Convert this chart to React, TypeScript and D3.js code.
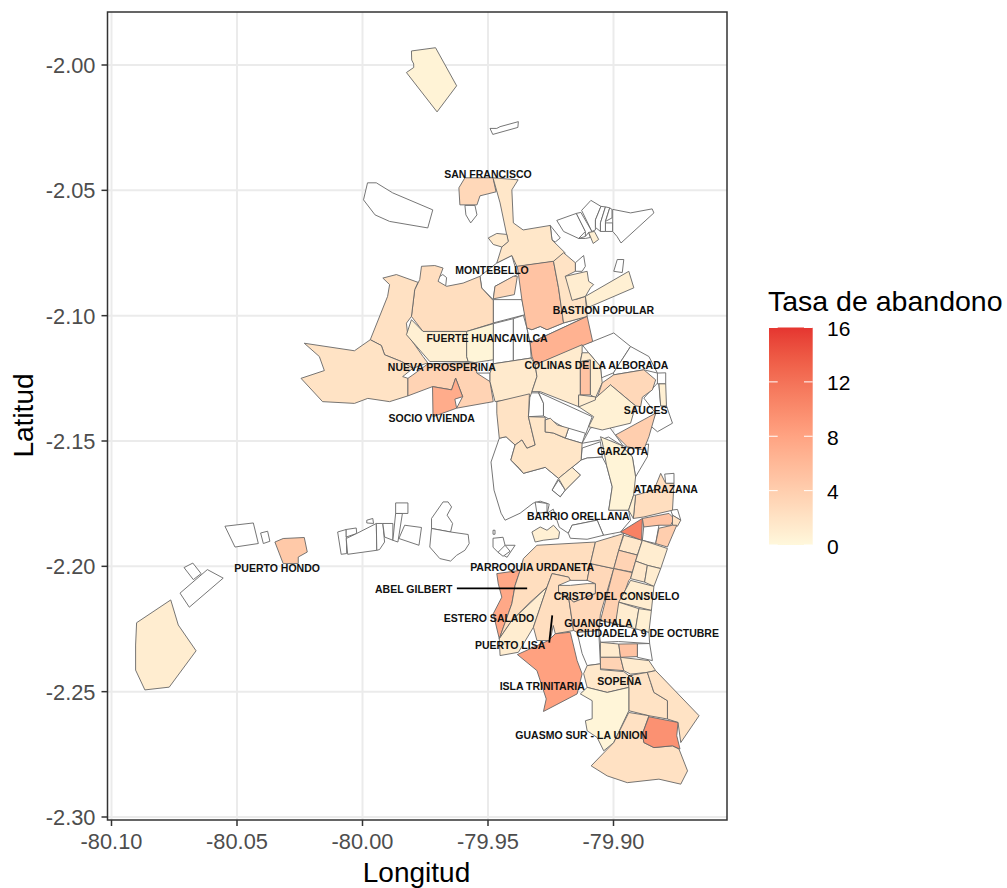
import React from "react";
import * as d3 from "d3";

// Map blocks are stored as "east,south" offsets in milli-degrees from this reference point.
const refLon = -79.95;
const refLat = -2.15;

const lonTicks = [-80.1, -80.05, -80.0, -79.95, -79.9];
const latTicks = [-2.0, -2.05, -2.1, -2.15, -2.2, -2.25, -2.3];
const legendTicks = [0, 4, 8, 12, 16];

// Parishes without data (no fill)
const emptyRings: string[] = [
  "0.8,-124.7 3.5,-124.7 4.8,-125.4 12.1,-127.4 11.9,-125.1 1.9,-122.3",
  "-48,-103 -44.5,-103 -38,-99 -22,-92.2 -24,-85 -39.2,-87.6 -45,-90.2 -49.6,-96.2",
  "-9.2,-94 -5.2,-94 -4.4,-90.2 -6.9,-87 -8.8,-90.2",
  "24.8,-86 28.8,-81 26.8,-79.4 25.5,-80.2",
  "27.4,-88 35.2,-90.8 38.8,-83.6 36.1,-80.8 30.1,-83.6",
  "35.2,-90.8 37,-91.2 41.4,-83.6 38.8,-81.6 38.8,-83.6",
  "37.3,-92 41,-96 45,-93.6 42.8,-88.2 42.8,-84.2 41.4,-83.6",
  "45,-93.6 46.8,-93.4 44.8,-87 44.8,-83.6 42.8,-85.2 42.8,-88.2",
  "46.8,-93.4 48.5,-93 46.8,-87.6 46.8,-83.6 44.8,-83.6 44.8,-87",
  "48.5,-93 49.4,-92.4 49.4,-89 46.8,-87.6",
  "46.8,-87 49.7,-87 49.7,-83.6 46.8,-83.6",
  "49.7,-92.4 56.8,-91 65.4,-92.6 66.1,-91 53,-79 51.4,-81.6 49.7,-83.6",
  "36.1,-80.8 38.8,-81.6 40.1,-83.2 40.8,-81.2 38.8,-80.8",
  "-20,-65.2 -18,-66.4 -16.5,-65.2 -16.9,-61.5 -20.3,-63.3",
  "-4.5,-27.1 0.8,-27.1 0.8,-23.7 -2,-24.1 -4.5,-25.7",
  "3.5,-71 9.5,-74 11.7,-66.4 2.8,-61.7 2.1,-56.4 -2.5,-61 -3.2,-65.7",
  "34.8,-71.1 38.1,-74 38.8,-69.7 37.5,-67.7 34.8,-67.7",
  "50.1,-67.7 51.5,-72.4 54.1,-72.4 53.5,-67.2",
  "2.1,-56.4 13.5,-56.4 14.8,-50.4 2.1,-47.1",
  "2.1,-46.8 10.1,-48.8 10.1,-32 2.1,-30.8",
  "10.1,-48.8 14.1,-50.1 15.5,-45.1 16.8,-39.1 17.2,-33.1 10.1,-32",
  "15.5,-45.1 17.5,-44.4 20.8,-45.7 23.5,-44.4 30.1,-47.1 39.5,-49.7 16.8,-39.1",
  "41.7,-39.7 50.1,-43.1 56.8,-37.7 50,-27.2 45.2,-25.2 44.8,-29.7 40.1,-35.2 37.5,-38.4",
  "56.8,-37.7 64.1,-33.7 67.5,-27.1 62.1,-28.4 50.1,-26.4 50,-27.2",
  "16.8,-19.2 20.1,-19.2 22.1,-15.1 22.1,-10 16.1,-9.7",
  "20.1,-19.5 41.5,-9.7 38.8,-2.4 31.5,-4.7 22.1,-10 22.1,-15.1",
  "62.1,-17.1 67.5,-23.1 68.1,-22.8 68.8,-14 71.1,-14 73.5,-7.1 67.5,-3.7 64.8,-6 66.8,-11.1",
  "67.5,-27.1 70.8,-27.2 70.8,-22.8 67.5,-22.8",
  "30.8,-1.1 32.1,-5.1 38.8,-3.1 37.5,0.9",
  "28.1,15.6 30.8,19.6 28.8,22.3 25.5,19.6",
  "37.5,0.9 40.8,-5.2 47.5,-6.8 54.1,2.3 48,-1.6 44.8,-0.4",
  "37.1,7.6 37.5,2.8 44.8,0.3 45.5,6.4 39.5,6.8",
  "52.8,1.6 56.8,2.8 64,1.2 63.5,6.3 58.8,14.3 57.5,6.3",
  "4.5,-1.1 1.2,8.4 2.4,19.6 5.2,28.8 6.8,31.6 12.8,28.8 18,24.8 20.8,24 24.4,25.2 23.6,28.8 26,27.2 28.4,34.4 32,36.8 33.5,33.6 43.5,31.6 46,37.6 52.8,36.3 56.8,31.6 56,27.6 48.1,27.6 49.5,18.3 47.2,9.6 45.5,6.4 39.5,6.8 37.1,7.6 33.5,10.5 36.8,13.6 30.8,19.6 28.8,22.3 25.5,19.6 28.1,14.9 22.8,10.5 14.1,12.9 9.1,7.6 10.8,1.6 7.2,-1.7",
  "32,36.8 33.5,33.6 43.5,31.6 46,37.6 39.5,39.2 32.8,38.8",
  "18.8,24.3 23.5,24.9 23.5,28.3 19.5,28.9",
  "2,38.8 6,38.4 6.8,41.6 10.8,41.6 7.6,46.4 4,44.4 2,42.4",
  "6.8,41.6 8.8,44 6,46 4,44.4",
  "2,35.6 2.8,35.6 2.8,37.2 2,37.2",
  "70.4,13.2 74.1,12.9 74.1,16.9 70.8,16.9",
  "72.8,27.6 75.5,27.3 76.8,31.6 73.5,29.6",
  "62.1,33.6 68.1,33.6 66.8,40.9 61.5,39.6",
  "44.1,75.6 44.8,71.6 50.8,72.9 64.1,76.3 64.4,80.8 52,80 44.8,80.3",
  "59.5,80.9 64.4,80.8 65.5,87.6 59.5,86.3",
  "35.5,76.3 44.1,75.6 44.8,88.9 39.5,89.6 37.5,84.8",
  "-22.5,34.9 -22.5,30.9 -17.9,24.3 -15.9,24.3 -14.5,26.3 -16.3,29.6 -14.1,32.9 -14.9,36.3",
  "-22.5,34.9 -14.9,36.3 -7.9,37.3 -7.5,40.9 -9.2,43.6 -12.5,45.6 -14.9,47.9 -19.2,46.9 -23.2,42.3",
  "-59.9,36.3 -56.5,35.3 -56.3,44.9 -58.5,45.2",
  "-56.5,35.3 -52.5,34.7 -52.3,36.9 -56.5,38.3",
  "-56.5,38.9 -52.3,36.9 -44.5,32.9 -44.3,43.6 -55.9,45.2",
  "-48.3,31.6 -45.9,30.9 -45.6,32.9 -48.3,32.7",
  "-44.5,32.9 -41.9,32.9 -41.2,40.3 -43.2,43.3 -44.3,43.6",
  "-41.9,32.9 -37.9,32.9 -37.9,39.6 -41.2,38.3",
  "-36.8,28.9 -34.1,28.9 -35.9,40.3 -37.9,39.6",
  "-36.8,24.7 -31.9,24.7 -31.9,28.9 -36.8,28.9",
  "-33.2,33.6 -26.5,34.5 -27.5,41.6 -35.5,38.9",
  "-104.8,34 -93.5,32.7 -91.5,40.9 -100.8,42.3",
  "-90.6,36.7 -87.8,36 -86.9,40 -89.5,40.9",
  "-121.1,50.5 -117.6,48.7 -114.3,52.9 -117.4,55.3",
  "-122.7,60.7 -111.8,51.3 -105.5,54.7 -119,66.3",
];

// Parishes with a dropout rate
const ratedRings: string[] = [
  "-30.5,-155.6 -20.9,-156.9 -12.5,-141.7 -20.3,-131.3 -32.5,-147 -29.6,-149 -29.6,-150.4 -30.4,-152",
  "-9.2,-105 2,-105 3.2,-99.4 -3.2,-97.8 -4.4,-94.2 -11.2,-94.2 -11.6,-101",
  "2,-105 12,-104.2 9.5,-100.2 10.1,-87 14,-84.2 24.8,-86 25.5,-80.2 30.8,-75 26.1,-71.6 11.5,-69.6 9.5,-74 3.5,-71 5.5,-77.4 8,-79.6 4.8,-95",
  "0.1,-81 3.5,-82.8 7.5,-82.4 8.1,-79.6 5.5,-77.4 2.1,-78.4",
  "40.1,-83.2 42.4,-83.6 44.1,-80.4 41.9,-78.8",
  "-26.5,-69.7 -21.2,-70 -17.9,-69 -19.9,-63.7 -16.5,-61.7 -9.9,-63 -3.2,-65.7 -2.5,-61 2.1,-56 2.1,-47 -8.5,-43.7 -25.9,-43.7 -30.5,-49.7 -29.2,-60.4 -27.2,-64.4",
  "-41.9,-65 -36.5,-66.4 -27.9,-63.3 -29.2,-60.4 -30.5,-49.7 -32.5,-47 -32,-42.4 -25.9,-33.7 -24,-31.2 -29.9,-29 -34.5,-31.7 -41.2,-34.4 -42.5,-38.1 -46.9,-40.4 -40,-57.7 -39.2,-62.4",
  "-73.2,-39 -53.2,-36 -46.9,-40.4 -42.5,-38.1 -41.2,-34.4 -34.5,-31.7 -29.9,-29 -34,-25.7 -31.9,-25 -31.9,-18 -39.2,-15.7 -47.9,-17 -53.2,-15 -65.9,-15.7 -74.5,-25 -65.2,-28.1 -67.2,-33.7",
  "-30.5,-48.4 -25.9,-43.7 -8.5,-43.7 -8.5,-33.7 -7.9,-31.7 -23.2,-31.7 -32.5,-42.4",
  "-8.5,-43.7 2.1,-46.8 2.1,-32.4 -5.2,-31.3 -7.9,-31.7 -8.5,-33.7",
  "-29.9,-26.4 -23.9,-30.8 -4.5,-31.3 -4.5,-27.1 0.8,-23.7 2.1,-15.7 -12.5,-13.1 -10.1,-17.7 -12.9,-25.1 -14.5,-20.4 -22.1,-21.7 -31.9,-18 -31.9,-25",
  "-22.1,-21.7 -14.5,-20.4 -12.9,-25.1 -10.1,-17.7 -13.2,-16.7 -12.5,-13.1 -21.9,-9.7",
  "2.8,-61.7 10.1,-65.7 11.7,-65.7 10.5,-58.4 2.1,-56.7",
  "11.7,-69.7 26.1,-71.7 28.1,-61.1 30.1,-47.1 23.5,-44.4 20.8,-45.7 17.5,-44.4 15.5,-45.1 13.5,-56.4",
  "26.1,-71.7 30.1,-75.1 34.8,-71.1 34.8,-67.7 30.8,-65.7 34.8,-56.4 38.8,-57.7 39.5,-49.7 30.1,-47.1 28.1,-61.1",
  "30.8,-65.7 39.5,-67.7 40.1,-63.7 42.1,-62.4 40.8,-61.1 38.8,-57.7 33.5,-56.1",
  "38.8,-57.7 56.1,-67.7 58.1,-61.1 39.5,-53.1",
  "16.8,-39.1 39.5,-49.7 41.7,-39.7 18.8,-30.4 17.5,-33.7",
  "2.1,-30.8 17.2,-33.1 18.8,-30.4 19.5,-25.7 17.5,-19.7 16.8,-17.7 2.8,-15.7 0.8,-23.7 0.8,-27.1",
  "18.8,-30.4 37.5,-38.4 37.5,-35.2 36.8,-31.7 36.8,-18.4 36.1,-18 36.1,-13.7 20.8,-19.7 17.5,-19.7 19.5,-25.7",
  "36.8,-31.7 40.8,-32.4 40.8,-18.4 36.8,-18.4",
  "37.5,-35.2 40.1,-35.2 44.8,-29.7 45.5,-23.2 42.8,-17.2 40.8,-18.4 40.8,-32.4 36.8,-31.7",
  "50.1,-26.4 62.1,-28.4 66.8,-24.4 65.5,-20.4 61.5,-17.5 60.8,-13.7 58.8,-14 48.8,-22.4 43.5,-17.1 45.5,-23.2",
  "48.8,-22.4 58.8,-14 56.8,-7.1 45.5,-4.4 40.1,-5.7 42.1,-9.7 36.1,-13.7 42.8,-17.1",
  "36.1,-18.4 42.8,-17.6 42.8,-16.4 36.1,-13.6",
  "50.8,-2.4 66.8,-11.1 64.1,-1.7 62,3.6 55.5,2.3",
  "68.1,-22.8 70.8,-22.8 71.1,-14 68.8,-14",
  "3.5,-15.7 16.5,-18.8 16.1,-9.7 18.8,1.6 15.5,2.9 13.5,-0.4 10.8,1.6 7.2,-1.7 4.5,-1.1 3.5,-11.1",
  "16.1,-9.7 22.8,-9.5 22.8,-3.6 26,-3.2 30.8,-1.1 37.5,0.9 37.1,7.6 28.1,14.9 22.8,10.5 14.1,12.9 12.5,10.9 9.1,7.6 10.8,1.6 13.5,-0.4 15.5,2.9 18.8,1.6",
  "22.8,-8.4 24.8,-9.1 27.6,-6.4 32.1,-5.1 30.8,-1.2 26,-3.2 22.8,-3.6",
  "28.1,14.9 33.5,10.5 36.8,13.6 30.8,19.6",
  "44.8,-1.7 52.8,1.6 57.5,6.3 58.8,14.3 58,21.6 56,27.6 48.1,27.6 49.5,18.3 47.2,9.6 45.5,0.3",
  "17.5,36.3 20.8,34.3 23.5,35.6 26.1,33.6 28.5,36.3 28.1,38.9 22,39.6 18.8,40.3",
  "3.5,52.9 12.8,51.6 10.8,57.6 9.5,64.9 4.5,78.9 2.1,68.9 5.5,62.3 4.1,57",
  "12.8,51.6 14.1,46.9 19.5,41.6 42.8,40.3 40.8,48.9 39.5,55.6 32.8,55.6 32.1,54.3 25.5,52.9 23.5,58.3 16.8,64.3 9.5,71.6 4.5,78.9 9.5,64.9 10.8,57.6",
  "4.5,78.9 9.5,71.6 23.5,58.3 18.1,74.3 12.1,84.3 4.8,85.6",
  "25.5,52.9 32.1,54.3 32.8,55.6 28.1,57.6 28.1,60.3 32.1,62.3 34.1,75.6 26.8,76.9 26,73.6 24.8,79.6 19.5,79.6 18.1,74.3 23.5,58.3",
  "28.1,57.6 32.8,57.6 39.5,56.9 42.8,56.9 42.8,60.8 34.1,64.3 32.1,62.3 28.1,60.3",
  "40.8,48.9 50.1,50.9 44.8,68.9 44.1,75.6 35.5,76.3 34.1,75.6 32.1,62.3 34.1,64.3 42.8,60.9 42.8,56.9 39.5,55.6",
  "42.8,40.3 54.1,36.9 52.1,43.6 50.1,50.9 40.8,48.9",
  "54.1,37.6 61.5,39.6 59.5,45.5 52.1,43.6",
  "52.1,43.6 59.5,45.5 57.5,52.3 50.1,50.9",
  "50.1,50.9 57.5,52.5 56.8,54.9 56.1,55.6 52.1,66.9 50.8,72.9 44.8,71.6",
  "52.8,36.3 61.5,30.9 61.2,39.6",
  "61.5,30.9 72.1,28.9 74.1,30.9 72.8,33.6 68.1,33.6 62.1,34.3",
  "58.8,21.6 66.1,19.6 68.8,12.9 70.8,16.9 74.1,16.9 73.5,27.6 62.1,30.3 57.9,30.9",
  "58,21.6 58.8,21.6 57.9,30.9 56,27.6",
  "73.5,29.6 76.8,31.6 75.5,34 73.5,33.6",
  "68.1,34.8 73.5,33.6 75.2,33.6 71.5,42.3 66.8,40.9",
  "61.5,39.6 71.5,42.9 68.8,50.9 63.5,49.6 58.8,47.9",
  "58.8,47.9 63.5,49.6 62.4,56.3 56.8,54.9",
  "63.5,49.6 68.8,50.9 66.1,58 62.4,56.3",
  "56.8,55.6 66.1,58 65.1,67.6 52.1,64.3",
  "52.1,64.3 60.1,66.9 58.8,74.9 50.8,72.9",
  "60.1,66.9 65.1,67.6 64.1,76.3 58.8,74.9",
  "44.8,80.3 52.1,81 52.8,86.3 44.8,86.3",
  "52.1,81 59.5,80.9 59.5,86 52.8,86.3",
  "44.8,86.3 52.8,86.3 54.1,91.6 44.8,90.9",
  "52.8,86.3 64.1,87.6 66.8,91.6 63.5,92.3 56.8,93 54.1,91.6",
  "39.5,89.6 44.8,88.9 44.8,91.2 54.1,92 56.1,93.6 56.1,98.3 47.5,100.3 39.5,98.3 38.1,92.8",
  "56.1,93.6 63.5,92.3 64.8,96.3 66.1,100.3 71.5,103.6 71.5,110.9 64.1,109.6 56.1,107.6 56.1,98.3",
  "66.8,91.6 84.1,109.6 76.8,120.3 75.7,112.3 71.5,110.9 71.5,103.6 66.1,100.3 64.8,96.3 63.5,92.3",
  "39.5,98.3 47.5,100.3 56.1,98.3 56.1,107.6 50.1,120.3 46.1,123.6 43.5,118.3 39.5,115.6 38.8,111.6 41.5,110.8 41.5,103.6 36.8,100.9",
  "56.1,108.3 64.1,109.6 61.5,116.9 62.1,120.3 66.1,122.3 73.5,121.6 76.1,122.9 79.5,131.6 76.8,136.9 68.1,134.9 55.5,136.3 47.5,133.6 41.1,129.6 50.1,120.3",
  "64.1,110 75.7,112.3 75.2,117.6 76.5,122.9 73.5,121.6 66.1,122.3 62.1,120.3 61.5,116.9",
  "11.7,85.2 24.1,79.6 26.8,76.9 32.8,76.3 35.5,87.6 37.5,92.9 35.5,100.9 22.1,107.9 23.2,102.9 19.5,91.6",
  "-84.9,40.3 -81.6,38.9 -73.2,38.5 -72,44.3 -75.6,46.3 -75.6,48.9 -81.6,48.9",
  "-140,72.5 -126.4,63.4 -123.4,73.4 -116.3,83.7 -127,98.2 -136.7,99.3 -140.4,91.4 -140.4,81.4",
];

const ratedValues: number[] = [
  0.5, 3, 1.6, 1.3, 0.8, 2.5, 2.2, 2, 0.8, 0.3, 3.5, 7.2, 3, 5, 2, 1, 0.8, 6.6, 1.3, 1.2, 5, 1, 3, 0.7, 1, 4, 0.8,
  2, 1.7, 1.7, 1, 0.4, 0.8, 7.5, 2.5, 1, 2.5, 2, 3, 2.5, 1.5, 3.5, 3.8, 10.8, 5, 2.5, 0.8, 2, 4, 1, 1.5, 1, 1, 1, 0.8,
  1.2, 5, 3.5, 1.2, 1.5, 2, 2, 0.3, 2.2, 9.5, 8.2, 4.5, 1,
];

const labelNames = [
  "SAN FRANCISCO", "MONTEBELLO", "BASTION POPULAR", "FUERTE HUANCAVILCA", "NUEVA PROSPERINA",
  "COLINAS DE LA ALBORADA", "SOCIO VIVIENDA", "SAUCES", "GARZOTA", "ATARAZANA", "BARRIO ORELLANA",
  "PUERTO HONDO", "PARROQUIA URDANETA", "ABEL GILBERT", "CRISTO DEL CONSUELO", "ESTERO SALADO",
  "GUANGUALA", "CIUDADELA 9 DE OCTUBRE", "PUERTO LISA", "ISLA TRINITARIA", "SOPEÑA", "GUASMO SUR - LA UNION",
];
const labelEast = [0, 1.6, 46, -0.4, -18.4, 43.2, -22.4, 62.8, 53.6, 70.8, 36, -84, 17.6, -29.6, 51.2, 0.4, 44, 63.6, 8.8, 21.6, 52.4, 37.2];
const labelSouth = [-106.4, -68, -52, -41.2, -29.6, -30.4, -9.2, -12.4, 4, 19.2, 30, 50.8, 50.4, 59.2, 62, 70.8, 72.8, 76.8, 81.6, 98, 96, 117.2];

// Leader lines for repelled labels
const leaderLines: string[] = ["-12.4,58.8 15.6,58.8", "25.6,69.6 24.4,80.4"];

const font = "'Liberation Sans', Arial, sans-serif";

const parseRing = (s: string): [number, number][] =>
  s.split(" ").map((p) => {
    const [e, n] = p.split(",").map(Number);
    return [refLon + e / 1000, refLat - n / 1000];
  });

export default function App() {
  const panel = { left: 107.5, right: 727, top: 12, bottom: 820 };
  const x = d3.scaleLinear().domain([-80, -79.9]).range([362.5, 613.5]);
  const y = d3.scaleLinear().domain([-2.0, -2.3]).range([65, 817]);
  const color = d3
    .scaleLinear<string>()
    .domain([0, 8, 16])
    .range(["#FFF8DC", "#FFA382", "#E53530"])
    .interpolate(d3.interpolateLab);
  const line = d3.line<[number, number]>().x((d) => x(d[0])).y((d) => y(d[1]));
  const ring = (s: string) => line(parseRing(s)) + "Z";

  const legend = { left: 769, right: 812.7, top: 327.5, bottom: 545 };
  const legY = d3.scaleLinear().domain([0, 16]).range([legend.bottom, legend.top]);
  const stops = d3.range(0, 16.01, 1);

  return (
    <svg width={1007} height={888} style={{ position: "absolute", left: 0, top: 0, background: "#fff" }} fontFamily={font}>
      <defs>
        <linearGradient id="legendFill" x1="0" y1="1" x2="0" y2="0">
          {stops.map((s) => (
            <stop key={s} offset={s / 16} stopColor={color(s)} />
          ))}
        </linearGradient>
      </defs>

      {lonTicks.map((t) => (
        <line key={t} x1={x(t)} x2={x(t)} y1={panel.top} y2={panel.bottom} stroke="#EBEBEB" strokeWidth={2} />
      ))}
      {latTicks.map((t) => (
        <line key={t} x1={panel.left} x2={panel.right} y1={y(t)} y2={y(t)} stroke="#EBEBEB" strokeWidth={2} />
      ))}

      {emptyRings.map((r, i) => (
        <path key={"e" + i} d={ring(r)} fill="#fff" stroke="#666" strokeWidth={0.9} strokeLinejoin="round" />
      ))}
      {ratedRings.map((r, i) => (
        <path key={"r" + i} d={ring(r)} fill={color(ratedValues[i])} stroke="#666" strokeWidth={0.9} strokeLinejoin="round" />
      ))}

      {leaderLines.map((r, i) => (
        <path key={"l" + i} d={line(parseRing(r)) as string} fill="none" stroke="#000" strokeWidth={1.8} />
      ))}

      {labelNames.map((n, i) => (
        <text
          key={n}
          x={x(refLon + labelEast[i] / 1000)}
          y={y(refLat - labelSouth[i] / 1000)}
          dy="0.36em"
          textAnchor="middle"
          fontSize={10.5}
          fontWeight="bold"
          fill="#111"
        >
          {n}
        </text>
      ))}

      <rect
        x={panel.left}
        y={panel.top}
        width={panel.right - panel.left}
        height={panel.bottom - panel.top}
        fill="none"
        stroke="#333"
        strokeWidth={1.5}
      />

      {lonTicks.map((t) => (
        <g key={t}>
          <line x1={x(t)} x2={x(t)} y1={panel.bottom} y2={panel.bottom + 6} stroke="#333" strokeWidth={1.5} />
          <text x={x(t)} y={panel.bottom + 29} textAnchor="middle" fontSize={21.8} fill="#4D4D4D">
            {t.toFixed(2)}
          </text>
        </g>
      ))}
      {latTicks.map((t) => (
        <g key={t}>
          <line x1={panel.left - 6} x2={panel.left} y1={y(t)} y2={y(t)} stroke="#333" strokeWidth={1.5} />
          <text x={panel.left - 12} y={y(t)} dy="0.36em" textAnchor="end" fontSize={21.8} fill="#4D4D4D">
            {t.toFixed(2)}
          </text>
        </g>
      ))}

      <text x={416.5} y={882} textAnchor="middle" fontSize={28} fill="#000">
        Longitud
      </text>
      <text transform="translate(33,415.5) rotate(-90)" textAnchor="middle" fontSize={28} fill="#000">
        Latitud
      </text>

      <text x={768} y={311} fontSize={28.5} fill="#000">
        Tasa de abandono
      </text>
      <rect
        x={legend.left}
        y={legend.top}
        width={legend.right - legend.left}
        height={legend.bottom - legend.top}
        fill="url(#legendFill)"
      />
      {legendTicks.map((t) => (
        <g key={t}>
          <line x1={legend.left} x2={legend.left + 8.7} y1={legY(t)} y2={legY(t)} stroke="#fff" strokeWidth={1} />
          <line x1={legend.right - 8.7} x2={legend.right} y1={legY(t)} y2={legY(t)} stroke="#fff" strokeWidth={1} />
          <text x={827} y={legY(t) + 1} dy="0.36em" fontSize={21} fill="#000">
            {t}
          </text>
        </g>
      ))}
    </svg>
  );
}
